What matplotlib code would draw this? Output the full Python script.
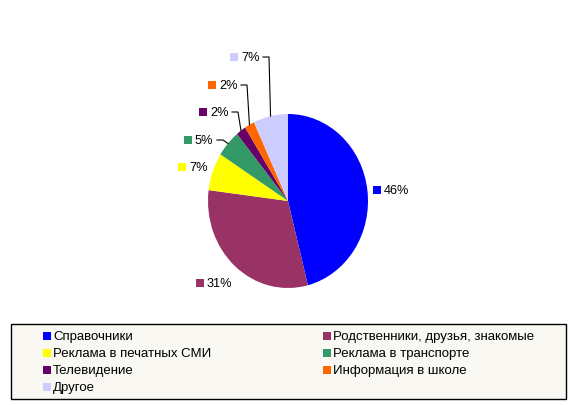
import matplotlib
matplotlib.use("Agg")
import matplotlib.pyplot as plt
from matplotlib.patches import Rectangle
import numpy as np

plt.rcParams['font.family'] = ['Liberation Sans', 'DejaVu Sans']

# data
categories = ['Справочники', 'Родственники, друзья, знакомые', 'Реклама в печатных СМИ',
              'Реклама в транспорте', 'Телевидение', 'Информация в школе', 'Другое']
values = [46, 31, 7, 5, 2, 2, 7]
colors = ['#0000FF', '#993366', '#FFFF00', '#339966', '#660066', '#FF6600', '#CCCCFF']

# label marker positions in pixels (left x, centre y), and which get leader lines
label_pos = [(373, 191), (196, 284), (178, 168), (184, 141), (199, 113), (208, 86), (230, 58)]
leader = [False, False, False, True, True, True, True]

W, H = 572, 406
fig = plt.figure(figsize=(W / 100, H / 100), dpi=100)
fig.patch.set_facecolor('white')

def fx(px):
    return px / W

def fy(py):
    return 1 - py / H

# pie axes (slightly elliptical like the original)
cx, cy, rx, ry = 288, 202, 80, 87
ax = fig.add_axes([fx(cx - rx), fy(cy + ry), 2 * rx / W, 2 * ry / H])
wedges, _ = ax.pie(values, colors=colors, startangle=90, counterclock=False,
                   wedgeprops=dict(linewidth=0), radius=1)
ax.set_aspect('auto')
ax.set_xlim(-1, 1)
ax.set_ylim(-1, 1)
ax.axis('off')

# labels
total = float(sum(values))
cum = np.cumsum([0] + values)
for i, v in enumerate(values):
    x, y = label_pos[i]
    fig.patches.append(Rectangle((fx(x), fy(y + 4)), 8 / W, 8 / H, transform=fig.transFigure,
                                 facecolor=colors[i], edgecolor='none'))
    fig.text(fx(x + 11), fy(y), f'{v}%', fontsize=9.2, va='center', ha='left')
    if leader[i]:
        mid = (cum[i] + v / 2) / total * 2 * np.pi
        ex = cx + rx * np.sin(mid)
        ey = cy - ry * np.cos(mid)
        xs = [x + 33, x + 39, ex]
        ys = [y, y, ey]
        fig.add_artist(plt.Line2D([fx(a) for a in xs], [fy(b) for b in ys],
                                  color='black', linewidth=0.8, transform=fig.transFigure))

# legend box
lx0, ly0, lx1, ly1 = 11, 325, 566, 400
fig.patches.append(Rectangle((fx(lx0), fy(ly1)), (lx1 - lx0) / W, (ly1 - ly0) / H,
                             transform=fig.transFigure, facecolor='#F9F8F3',
                             edgecolor='black', linewidth=1))
col_x = [43, 323]
row_y = [337, 354, 371, 388]
for i, name in enumerate(categories):
    x = col_x[i % 2]
    y = row_y[i // 2]
    fig.patches.append(Rectangle((fx(x), fy(y + 4)), 8 / W, 8 / H, transform=fig.transFigure,
                                 facecolor=colors[i], edgecolor='none'))
    fig.text(fx(x + 10), fy(y), name, fontsize=9.5, va='center', ha='left')

fig.savefig('out.png', dpi=100)
